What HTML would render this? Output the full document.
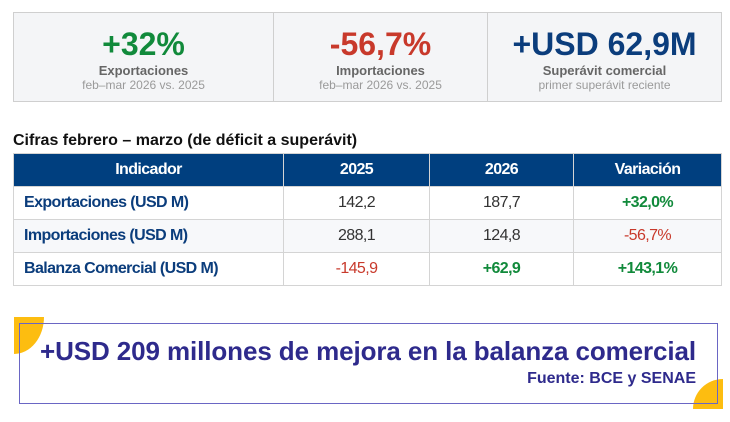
<!DOCTYPE html>
<html><head><meta charset="utf-8"><style>
body{margin:0;width:730px;height:422px;background:#fff;font-family:"Liberation Sans",Arial,sans-serif;position:relative;overflow:hidden}
.card{position:absolute;top:12px;height:90px;background:#f4f5f7;border:1px solid #cfcfcf;text-align:center;box-sizing:border-box}
.big{font-size:32px;font-weight:bold;margin-top:14px;line-height:35px}
.lab{font-size:13px;font-weight:bold;color:#666;line-height:15px;margin-top:1px}
.sub{font-size:12px;color:#9a9a9a;line-height:14px}
table{position:absolute;left:13px;top:153px;width:709px;border-collapse:collapse;font-size:16px;letter-spacing:-0.6px}
td,th{border:1px solid #d4d4d4;height:32px;padding:0;text-align:center;color:#333}
th{background:#003f7f;color:#fff;height:32px;border-color:#d4d4d4}
td.n{color:#0b3d7c;font-weight:bold;text-align:left;padding-left:10px}
td.g{color:#118a3b;font-weight:bold}td.r{color:#c8392b}
</style></head><body>
<div class="card" style="left:13px;width:261px"><div class="big" style="color:#118a3b">+32%</div><div class="lab">Exportaciones</div><div class="sub">feb–mar 2026 vs. 2025</div></div>
<div class="card" style="left:273px;width:215px"><div class="big" style="color:#c8392b">-56,7%</div><div class="lab">Importaciones</div><div class="sub">feb–mar 2026 vs. 2025</div></div>
<div class="card" style="left:487px;width:235px"><div class="big" style="color:#0b3d7c">+USD 62,9M</div><div class="lab">Superávit comercial</div><div class="sub">primer superávit reciente</div></div>
<div style="position:absolute;left:13px;top:132px;font-size:16px;font-weight:bold;color:#111">Cifras febrero – marzo (de déficit a superávit)</div>
<table>
<tr><th style="width:269px">Indicador</th><th style="width:145px">2025</th><th style="width:143px">2026</th><th>Variación</th></tr>
<tr><td class="n">Exportaciones (USD M)</td><td>142,2</td><td>187,7</td><td class="g">+32,0%</td></tr>
<tr style="background:#f7f8fa"><td class="n">Importaciones (USD M)</td><td>288,1</td><td>124,8</td><td class="r">-56,7%</td></tr>
<tr><td class="n">Balanza Comercial (USD M)</td><td class="r">-145,9</td><td class="g">+62,9</td><td class="g">+143,1%</td></tr>
</table>
<div style="position:absolute;left:14px;top:317px;width:30px;height:37px;background:#fdbd10;border-bottom-right-radius:30px 37px"></div>
<div style="position:absolute;left:693px;top:379px;width:30px;height:30px;background:#fdbd10;border-top-left-radius:30px"></div>
<div style="position:absolute;left:19px;top:323px;width:699px;height:81px;border:1.5px solid #6a66c4;box-sizing:border-box"></div>
<div style="position:absolute;left:40px;top:336px;font-size:26px;font-weight:bold;color:#2e2a8c;letter-spacing:-0.1px">+USD 209 millones de mejora en la balanza comercial</div>
<div style="position:absolute;right:34px;top:370px;font-size:16px;font-weight:bold;color:#2e2a8c">Fuente: BCE y SENAE</div>
</body></html>
